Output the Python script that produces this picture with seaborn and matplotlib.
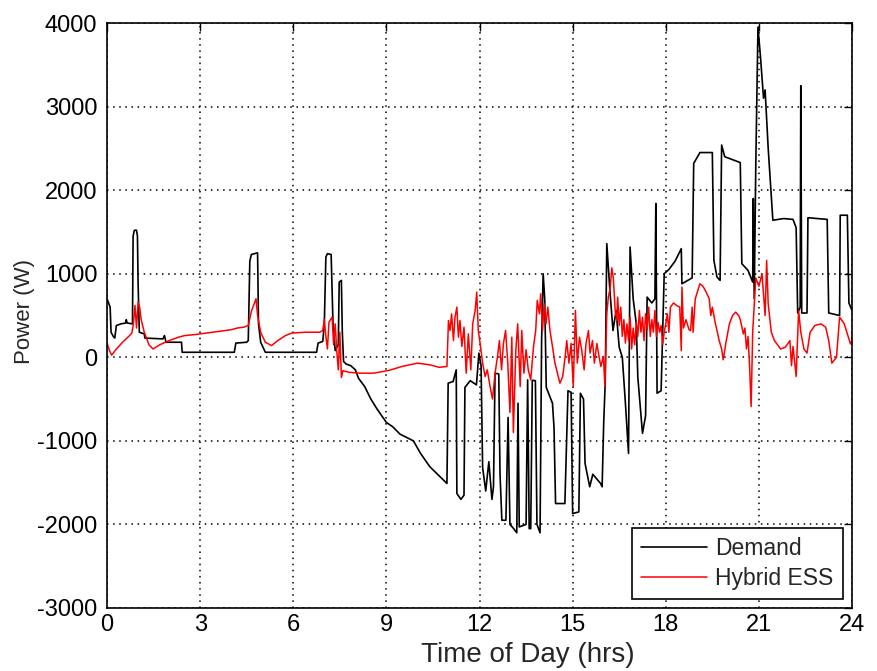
import numpy as np
import pandas as pd
import seaborn as sns
import matplotlib
matplotlib.use('Agg')
import matplotlib.pyplot as plt

# Demand trace: (hour, watts)
demand_pts = [
    (0.00, 700), (0.05, 650), (0.10, 600), (0.13, 300), (0.20, 250), (0.25, 230), (0.30, 380),
    (0.45, 400), (0.60, 410), (0.62, 450), (0.65, 410), (0.82, 400), (0.84, 1450), (0.88, 1520),
    (0.95, 1520), (0.98, 1450), (1.00, 900), (1.04, 300), (1.20, 280), (1.22, 230), (1.80, 220),
    (1.85, 260), (1.90, 180), (2.40, 180), (2.42, 60), (4.10, 60), (4.15, 170), (4.50, 180),
    (4.55, 200), (4.60, 1150), (4.65, 1230), (4.85, 1250), (4.88, 400), (4.95, 180), (5.10, 60),
    (6.75, 60), (6.80, 170), (6.95, 190), (7.00, 400), (7.05, 1200), (7.10, 1240), (7.22, 1230),
    (7.28, 400), (7.35, 80), (7.45, 150), (7.48, 900), (7.55, 920), (7.58, 300), (7.62, -50),
    (7.70, -80), (7.85, -100), (8.00, -150), (8.10, -250), (8.30, -350), (8.50, -500), (8.70, -620),
    (9.00, -780), (9.20, -830), (9.44, -920), (9.60, -950), (9.87, -1000), (10.10, -1150),
    (10.40, -1310), (10.70, -1420), (10.95, -1510), (10.99, -310), (11.15, -290), (11.25, -150),
    (11.27, -1630), (11.40, -1700), (11.50, -1650), (11.53, -360), (11.70, -280), (11.90, -330),
    (11.98, 50), (12.05, -100), (12.10, -1320), (12.20, -1600), (12.30, -1250), (12.40, -1700),
    (12.45, -1550), (12.50, -190), (12.62, -200), (12.66, -1390), (12.72, -1950), (12.85, -1950),
    (12.92, -720), (12.98, -2000), (13.10, -2050), (13.20, -2100), (13.24, -550), (13.28, -2030),
    (13.50, -2000), (13.55, -270), (13.60, -2050), (13.65, -2050), (13.70, -275), (13.80, -280),
    (13.85, -2000), (13.95, -2100), (14.00, 200), (14.05, 1000), (14.10, 700), (14.15, -360),
    (14.35, -550), (14.40, -840), (14.45, -1750), (14.75, -1750), (14.85, -400), (14.95, -420),
    (15.00, -1870), (15.20, -1850), (15.25, -430), (15.35, -500), (15.40, -1270), (15.55, -1550),
    (15.65, -1400), (15.90, -1510), (15.95, -1550), (16.00, -790), (16.05, -300), (16.10, 1360),
    (16.20, 800), (16.30, 320), (16.40, 560), (16.50, 120), (16.60, 0), (16.70, -550),
    (16.80, -1150), (16.85, 1320), (16.95, 700), (17.05, 400), (17.10, -240), (17.25, -910),
    (17.35, -700), (17.40, 720), (17.55, 650), (17.65, 700), (17.68, 1840), (17.72, -430),
    (17.85, -400), (17.95, 1000), (18.10, 1050), (18.30, 1150), (18.50, 1300), (18.52, 880),
    (18.85, 950), (18.90, 2320), (19.10, 2450), (19.50, 2450), (19.55, 1160), (19.65, 960),
    (19.75, 920), (19.80, 2540), (19.90, 2400), (20.40, 2330), (20.45, 1120), (20.65, 1040),
    (20.80, 900), (20.82, 1900), (20.85, 700), (20.90, 2300), (20.97, 3950), (21.05, 3600),
    (21.15, 3100), (21.20, 3200), (21.30, 2500), (21.45, 1640), (21.80, 1660), (22.10, 1650),
    (22.20, 1550), (22.25, 530), (22.33, 600), (22.35, 3250), (22.38, 530), (22.55, 530),
    (22.58, 1670), (23.20, 1650), (23.25, 530), (23.60, 500), (23.62, 1700), (23.85, 1700),
    (23.90, 650), (24.00, 560),
]

# Hybrid ESS trace: (hour, watts)
ess_pts = [
    (0.00, 170), (0.08, 80), (0.15, 25), (0.30, 100), (0.50, 180), (0.70, 250), (0.80, 290),
    (0.85, 400), (0.90, 620), (0.95, 350), (1.00, 660), (1.05, 600), (1.10, 450), (1.20, 300),
    (1.35, 150), (1.48, 100), (1.70, 150), (2.00, 200), (2.30, 240), (2.50, 260), (2.80, 270),
    (3.20, 290), (3.60, 310), (4.00, 330), (4.20, 350), (4.40, 360), (4.55, 380), (4.65, 550),
    (4.80, 700), (4.85, 500), (4.95, 300), (5.10, 180), (5.30, 140), (5.50, 200), (5.75, 260),
    (5.95, 290), (6.40, 300), (6.85, 300), (6.95, 320), (7.00, 450), (7.05, 250), (7.10, 100),
    (7.15, 420), (7.25, 480), (7.30, 150), (7.35, 400), (7.40, 80), (7.45, -150), (7.50, 300),
    (7.55, -240), (7.60, -160), (7.80, -180), (8.15, -190), (8.60, -190), (9.10, -155),
    (9.50, -110), (10.00, -70), (10.40, -90), (10.70, -120), (10.95, -110),
    (11.00, 440), (11.05, 320), (11.10, 520), (11.16, 200), (11.21, 480), (11.27, 600),
    (11.32, 240), (11.37, 440), (11.43, 130), (11.50, 360), (11.57, -190), (11.64, 280),
    (11.72, -150), (11.78, 400), (11.86, 560), (11.91, 780), (11.96, 320), (12.02, 165),
    (12.10, -70), (12.18, -230), (12.25, -150), (12.34, -350), (12.42, -500), (12.50, -190),
    (12.58, 10), (12.64, 200), (12.71, -150), (12.77, 165), (12.84, 320), (12.91, -70),
    (12.98, -660), (13.04, 240), (13.09, -900), (13.17, 90), (13.23, 400), (13.31, -350),
    (13.36, 320), (13.43, -190), (13.50, 90), (13.57, -150), (13.65, -270), (13.74, 130),
    (13.81, 320), (13.86, 680), (13.93, 520), (13.97, 760), (14.03, 320), (14.08, 640),
    (14.14, 400), (14.20, 600), (14.27, 320), (14.35, 130), (14.43, -70), (14.51, -190),
    (14.59, -310), (14.68, -230), (14.76, 10), (14.81, 200), (14.88, -70), (14.95, 165),
    (15.02, -350), (15.09, 560), (15.15, -70), (15.22, 240), (15.29, 90), (15.37, -150),
    (15.43, 165), (15.51, 320), (15.56, 50), (15.64, 200), (15.70, -70), (15.78, 165),
    (15.85, 10), (15.91, -110), (15.99, 10), (16.04, -350), (16.10, 520), (16.15, 720),
    (16.21, 830), (16.26, 1070), (16.31, 950), (16.37, 560), (16.42, 440),
    (16.45, 720), (16.50, 380), (16.55, 600), (16.60, 250), (16.65, 450), (16.70, 170),
    (16.75, 400), (16.80, 200), (16.85, 480), (16.90, 100), (16.95, 350), (17.00, 150),
    (17.05, 420), (17.10, 250), (17.15, 560), (17.20, 300), (17.25, 480), (17.30, 200),
    (17.35, 520), (17.40, 330), (17.45, 600), (17.50, 250), (17.55, 450), (17.60, 300),
    (17.65, 560), (17.70, 250), (17.75, 420), (17.80, 300), (17.85, 380), (17.90, 150),
    (17.95, 300), (18.00, 400), (18.05, 520), (18.10, 300), (18.15, 600), (18.25, 650),
    (18.35, 620), (18.45, 600), (18.50, 80), (18.52, 840), (18.57, 350), (18.65, 450),
    (18.75, 330), (18.80, 320), (18.85, 600), (18.88, 300), (18.95, 700), (19.05, 820),
    (19.10, 880), (19.20, 850), (19.30, 780), (19.40, 700), (19.45, 500), (19.50, 600),
    (19.60, 400), (19.65, 320), (19.72, 200), (19.80, 100), (19.85, -30), (19.95, 200),
    (20.05, 400), (20.15, 500), (20.25, 540), (20.35, 500), (20.40, 450), (20.50, 280),
    (20.55, 350), (20.60, 100), (20.65, 250), (20.70, -100), (20.75, -590), (20.80, 300),
    (20.90, 950), (21.00, 850), (21.10, 1000), (21.20, 500), (21.25, 1160), (21.30, 640),
    (21.40, 300), (21.50, 200), (21.70, 100), (21.85, 120), (22.00, 200), (22.05, -100),
    (22.10, 130), (22.20, -230), (22.28, 560), (22.35, 300), (22.45, 100), (22.55, 50),
    (22.65, 300), (22.80, 380), (23.00, 400), (23.15, 360), (23.25, 200), (23.35, -70),
    (23.50, 0), (23.60, 480), (23.75, 400), (23.85, 280), (23.95, 160), (24.00, 200),
]

x_ticks = [0, 3, 6, 9, 12, 15, 18, 21, 24]
y_ticks = [-3000, -2000, -1000, 0, 1000, 2000, 3000, 4000]

demand = pd.DataFrame(demand_pts, columns=['t', 'w'])
ess = pd.DataFrame(ess_pts, columns=['t', 'w'])

sns.set_theme(style='white')
plt.rcParams['font.family'] = ['Liberation Sans', 'DejaVu Sans']
plt.rcParams['axes.unicode_minus'] = False

fig = plt.figure(figsize=(8.78, 6.71), dpi=100)
ax = fig.add_axes([0.1219, 0.0939, 0.8485, 0.8718])

sns.lineplot(data=demand, x='t', y='w', sort=False, estimator=None, color='black',
             linewidth=1.2, ax=ax, label='Demand')
sns.lineplot(data=ess, x='t', y='w', sort=False, estimator=None, color='red',
             linewidth=1.1, ax=ax, label='Hybrid ESS')

ax.set_xlim(0, 24)
ax.set_ylim(-3000, 4000)
ax.set_xticks(x_ticks)
ax.set_yticks(y_ticks)
ax.grid(True, color='black', linestyle=(0, (1, 3)), linewidth=1.1)
ax.tick_params(direction='in', top=True, right=True, length=6, width=1,
               labelsize=17, colors='black')
ax.tick_params(axis='y', pad=7)
ax.tick_params(axis='x', pad=4)
for s in ax.spines.values():
    s.set_color('black')
    s.set_linewidth(1.2)

ax.set_xlabel('Time of Day (hrs)', fontsize=20)
ax.set_ylabel('Power (W)', fontsize=16)
ax.xaxis.set_label_coords(0.565, -0.058)
ax.yaxis.set_label_coords(-0.097, 0.506)

leg = ax.legend(loc='lower right', frameon=True, fancybox=False, edgecolor='black',
                fontsize=16.5, handlelength=2.9, handletextpad=0.35, borderpad=0.4,
                labelspacing=0.3, borderaxespad=0.4)
leg.get_frame().set_linewidth(1.2)
leg.get_frame().set_alpha(1)

fig.savefig('out.png', dpi=100)
